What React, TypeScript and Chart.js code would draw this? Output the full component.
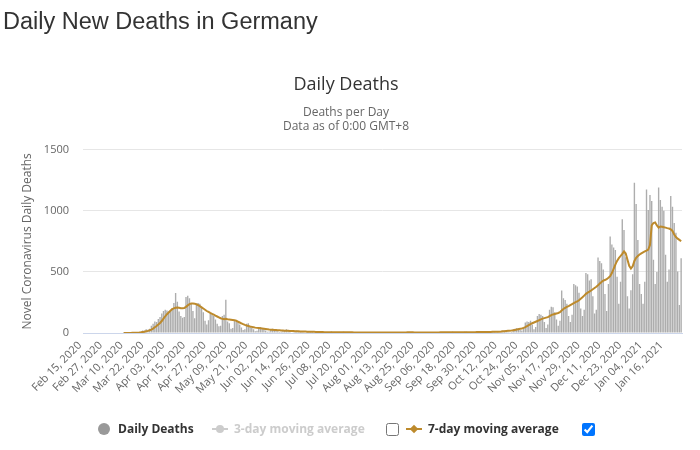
import React, { useEffect, useRef } from "react";
import { Chart, registerables } from "chart.js";

Chart.register(...registerables);

const MONTHS = ["Jan", "Feb", "Mar", "Apr", "May", "Jun", "Jul", "Aug", "Sep", "Oct", "Nov", "Dec"];

// Daily new deaths, Feb 15, 2020 – Jan 25, 2021 (one array per month)
const deathsFeb2020 = [0, 0, 0, 0, 0, 0, 0, 0, 0, 0, 0, 0, 0, 0, 0];
const deathsMar2020 = [0, 0, 0, 0, 0, 0, 0, 0, 2, 0, 1, 2, 1, 3, 4, 3, 7, 8, 11, 20, 21, 30, 27, 34, 60, 75, 95, 90, 115, 130, 160];
const deathsApr2020 = [180, 190, 185, 175, 180, 200, 245, 327, 255, 175, 140, 125, 130, 295, 305, 285, 240, 180, 120, 230, 245, 240, 215, 170, 100, 70, 105, 160, 150, 140];
const deathsMay2020 = [110, 75, 55, 60, 140, 150, 272, 95, 80, 35, 40, 105, 95, 90, 70, 45, 25, 30, 75, 80, 55, 45, 30, 15, 18, 45, 50, 40, 35, 20, 10];
const deathsJun2020 = [12, 30, 35, 28, 25, 15, 8, 10, 22, 25, 30, 20, 12, 5, 6, 18, 20, 15, 12, 8, 3, 4, 15, 12, 10, 8, 5, 2, 3, 12];
const deathsJul2020 = [10, 8, 7, 4, 1, 2, 12, 9, 8, 6, 3, 1, 2, 10, 8, 7, 5, 3, 1, 2, 9, 6, 5, 7, 2, 1, 2, 8, 6, 7, 5];
const deathsAug2020 = [2, 1, 1, 8, 6, 7, 5, 3, 1, 2, 9, 6, 6, 5, 2, 1, 2, 7, 5, 8, 6, 3, 1, 1, 7, 6, 5, 7, 2, 1, 1];
const deathsSep2020 = [8, 7, 6, 5, 3, 1, 2, 9, 7, 8, 6, 3, 1, 2, 10, 9, 8, 7, 3, 1, 2, 11, 10, 9, 8, 4, 2, 3, 14, 12];
const deathsOct2020 = [11, 9, 5, 2, 3, 12, 13, 14, 12, 6, 3, 4, 16, 18, 20, 22, 12, 6, 8, 30, 35, 38, 40, 25, 20, 40, 85, 95, 90, 100, 70];
const deathsNov2020 = [30, 50, 140, 155, 150, 140, 90, 40, 70, 190, 215, 210, 170, 110, 60, 100, 348, 285, 270, 240, 140, 90, 150, 400, 390, 380, 330, 200, 140, 190];
const deathsDec2020 = [490, 480, 430, 440, 300, 160, 190, 617, 590, 570, 520, 320, 180, 400, 789, 725, 700, 680, 460, 240, 420, 930, 843, 620, 300, 200, 350, 480, 1229, 1055, 760];
const deathsJan2021 = [400, 320, 240, 420, 1175, 1006, 1129, 1080, 600, 400, 500, 1190, 1088, 1033, 1000, 640, 420, 520, 1120, 1033, 900, 820, 503, 230, 612];

// 7-day moving average of daily deaths (starts with the first reported death)
const avg7Feb2020 = [null, null, null, null, null, null, null, null, null, null, null, null, null, null, null];
const avg7Mar2020 = [null, null, null, null, null, null, null, null, 0.3, 0.3, 0.4, 0.7, 0.9, 1.3, 1.9, 2.3, 3, 4, 5.4, 8, 10.6, 14, 17.6, 22, 28, 36, 47, 57, 69, 82, 98];
const avg7Apr2020 = [118, 137, 154, 168, 182, 195, 202, 207, 208, 206, 203, 202, 205, 214, 226, 236, 241, 242, 240, 235, 228, 220, 210, 200, 190, 180, 172, 164, 157, 150];
const avg7May2020 = [142, 135, 128, 121, 116, 113, 116, 113, 111, 109, 107, 105, 100, 93, 86, 79, 72, 66, 61, 57, 53, 50, 47, 44, 42, 40, 38, 36, 34, 32, 30];
const avg7Jun2020 = [28, 27, 26, 25, 24, 23, 22, 21, 20, 19, 18, 18, 17, 16, 16, 15, 15, 14, 13, 13, 12, 12, 11, 11, 10, 10, 10, 9, 9, 8];
const avg7Jul2020 = [8, 8, 7, 7, 7, 7, 7, 7, 6, 6, 6, 6, 6, 6, 6, 6, 6, 6, 6, 5, 5, 5, 5, 5, 5, 5, 5, 5, 5, 5, 5];
const avg7Aug2020 = [5, 4, 4, 4, 5, 5, 5, 5, 5, 5, 5, 5, 5, 5, 5, 5, 5, 5, 5, 6, 6, 6, 6, 5, 5, 5, 5, 5, 5, 5, 5];
const avg7Sep2020 = [5, 5, 5, 5, 5, 5, 5, 6, 6, 6, 6, 6, 6, 6, 6, 6, 6, 6, 6, 6, 6, 7, 7, 7, 7, 7, 7, 7, 8, 8];
const avg7Oct2020 = [8, 8, 8, 8, 8, 9, 9, 10, 10, 10, 10, 11, 12, 14, 15, 17, 18, 19, 20, 22, 25, 28, 31, 34, 37, 42, 48, 56, 64, 72, 80];
const avg7Nov2020 = [86, 92, 98, 106, 112, 118, 122, 126, 130, 138, 146, 152, 156, 160, 164, 170, 184, 196, 206, 214, 220, 228, 236, 244, 252, 258, 268, 280, 292, 306];
const avg7Dec2020 = [320, 330, 338, 348, 358, 368, 378, 390, 405, 418, 428, 434, 440, 452, 465, 490, 525, 560, 590, 612, 630, 648, 668, 650, 600, 550, 527, 545, 590, 615, 630];
const avg7Jan2021 = [642, 652, 660, 668, 674, 682, 720, 880, 900, 905, 880, 862, 872, 870, 866, 862, 858, 855, 848, 835, 805, 785, 772, 762, 750];

const dailyDeaths = [
  ...deathsFeb2020, ...deathsMar2020, ...deathsApr2020, ...deathsMay2020,
  ...deathsJun2020, ...deathsJul2020, ...deathsAug2020, ...deathsSep2020,
  ...deathsOct2020, ...deathsNov2020, ...deathsDec2020, ...deathsJan2021,
];

const movingAverage7 = [
  ...avg7Feb2020, ...avg7Mar2020, ...avg7Apr2020, ...avg7May2020,
  ...avg7Jun2020, ...avg7Jul2020, ...avg7Aug2020, ...avg7Sep2020,
  ...avg7Oct2020, ...avg7Nov2020, ...avg7Dec2020, ...avg7Jan2021,
];

const yTicks = [0, 500, 1000, 1500];
const TICK_EVERY = 12;

const BAR_COLOR = "#adadad";
const LINE_COLOR = "#bd8a2c";

function buildDateLabels(count: number): string[] {
  const out: string[] = [];
  const d = new Date(Date.UTC(2020, 1, 15));
  for (let i = 0; i < count; i++) {
    const day = String(d.getUTCDate()).padStart(2, "0");
    out.push(`${MONTHS[d.getUTCMonth()]} ${day}, ${d.getUTCFullYear()}`);
    d.setUTCDate(d.getUTCDate() + 1);
  }
  return out;
}

const dateLabels = buildDateLabels(dailyDeaths.length);

const legendText: React.CSSProperties = {
  position: "absolute",
  top: 421,
  fontFamily: "'Open Sans', sans-serif",
  fontWeight: 700,
  fontSize: 12,
  lineHeight: "16px",
  whiteSpace: "nowrap",
};

function Legend() {
  return (
    <>
      <div style={{ position: "absolute", left: 98, top: 423, width: 12, height: 12, borderRadius: 6, background: "#999" }} />
      <div style={{ ...legendText, left: 118, color: "#333" }}>Daily Deaths</div>

      <div style={{ position: "absolute", left: 212, top: 428, width: 16, height: 2, background: "#ccc" }} />
      <div style={{ position: "absolute", left: 216, top: 425, width: 8, height: 8, borderRadius: 4, background: "#ccc" }} />
      <div style={{ ...legendText, left: 234, color: "#ccc" }}>3-day moving average</div>
      <input type="checkbox" readOnly style={{ position: "absolute", left: 386, top: 423, width: 13, height: 13, margin: 0 }} />

      <div style={{ position: "absolute", left: 406, top: 428, width: 16, height: 2, background: LINE_COLOR }} />
      <div style={{ position: "absolute", left: 411, top: 426, width: 6, height: 6, background: LINE_COLOR, transform: "rotate(45deg)" }} />
      <div style={{ ...legendText, left: 428, color: "#333" }}>7-day moving average</div>
      <input type="checkbox" checked readOnly style={{ position: "absolute", left: 582, top: 423, width: 13, height: 13, margin: 0 }} />
    </>
  );
}

export default function App() {
  const canvasRef = useRef<HTMLCanvasElement | null>(null);

  useEffect(() => {
    if (!canvasRef.current) return;
    Chart.defaults.font.family = "'Open Sans', sans-serif";

    const chart = new Chart(canvasRef.current, {
      type: "bar",
      data: {
        labels: dateLabels,
        datasets: [
          {
            type: "line",
            label: "7-day moving average",
            data: movingAverage7 as (number | null)[],
            borderColor: LINE_COLOR,
            borderWidth: 2,
            pointRadius: 0,
            tension: 0,
            order: 0,
          },
          {
            type: "bar",
            label: "Daily Deaths",
            data: dailyDeaths,
            backgroundColor: BAR_COLOR,
            barPercentage: 0.8,
            categoryPercentage: 1,
            order: 1,
          },
        ],
      },
      options: {
        animation: false,
        responsive: false,
        maintainAspectRatio: false,
        layout: { padding: { left: 10, right: 18, top: 0, bottom: 57 } },
        plugins: {
          legend: { display: false },
          tooltip: { enabled: false },
          title: {
            display: true,
            text: "Daily Deaths",
            color: "#333",
            font: { size: 18, weight: "normal" },
            padding: { top: 74, bottom: 8 },
          },
          subtitle: {
            display: true,
            text: ["Deaths per Day", "Data as of 0:00 GMT+8"],
            color: "#666",
            font: { size: 12, lineHeight: 1.17 },
            padding: { top: 2, bottom: 16 },
          },
        },
        scales: {
          x: {
            grid: { display: false, drawTicks: false },
            border: { display: true, color: "#ccd6eb" },
            ticks: {
              autoSkip: false,
              maxRotation: 45,
              minRotation: 45,
              padding: 6,
              labelOffset: -4,
              color: "#666",
              font: { size: 11 },
              callback: (_v: any, i: number) => (i % TICK_EVERY === 0 ? dateLabels[i] : null),
            },
            afterFit: (scale: any) => {
              scale.height = 60;
            },
          },
          y: {
            min: yTicks[0],
            max: yTicks[yTicks.length - 1],
            afterBuildTicks: (scale: any) => {
              scale.ticks = yTicks.map((v) => ({ value: v }));
            },
            ticks: {
              color: "#666",
              font: { size: 11 },
              padding: 14,
              callback: (v: any) => String(v),
            },
            grid: { color: "#e6e6e6", drawTicks: false },
            border: { display: false },
            title: {
              display: true,
              text: "Novel Coronavirus Daily Deaths",
              color: "#666",
              font: { size: 12 },
              padding: { top: 10, bottom: 0 },
            },
            afterFit: (scale: any) => {
              scale.width = 73;
            },
          },
        },
      },
    });

    return () => chart.destroy();
  }, []);

  return (
    <div style={{ position: "absolute", left: 0, top: 0, width: 700, height: 450, background: "#fff" }}>
      <canvas ref={canvasRef} width={700} height={450} style={{ position: "absolute", left: 0, top: 0, display: "block" }} />
      <div
        style={{
          position: "absolute",
          left: 3,
          top: 10,
          fontFamily: "'Liberation Sans', Arial, sans-serif",
          fontSize: 23.5,
          lineHeight: "23.5px",
          color: "#333",
          whiteSpace: "nowrap",
        }}
      >
        Daily New Deaths in Germany
      </div>
      <Legend />
    </div>
  );
}
